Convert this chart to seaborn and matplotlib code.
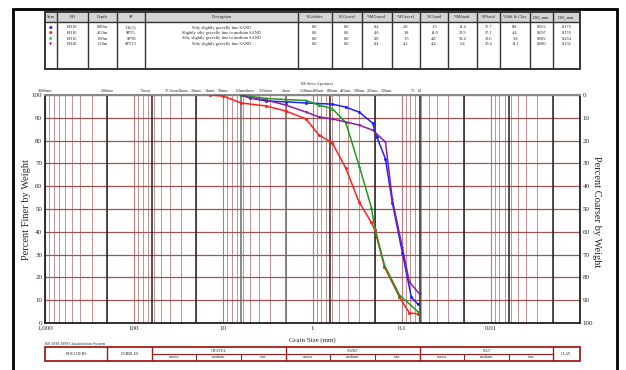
import numpy as np
import pandas as pd
import seaborn as sns
import matplotlib.pyplot as plt
from matplotlib.patches import Rectangle
from matplotlib.ticker import LogLocator, NullFormatter, FixedLocator

# ---- data ----
blue_size = [6.3, 5, 3.35, 2, 1.18, 0.6, 0.425, 0.3, 0.212, 0.19, 0.152, 0.127, 0.098, 0.078, 0.066]
blue_pct = [100, 98.7, 97.4, 97, 96.5, 96, 94.7, 92.5, 87.7, 81.6, 72, 52.6, 30.7, 11.4, 8.3]

red_size = [14, 10, 6.3, 3.35, 2, 1.18, 0.85, 0.6, 0.425, 0.3, 0.22, 0.2, 0.156, 0.106, 0.082, 0.065]
red_pct = [100, 99.5, 96.5, 95.2, 93, 89.5, 82.5, 79, 68, 53, 44.3, 40.8, 24.6, 11.4, 4.4, 4.0]

green_size = [6.3, 3.35, 2, 1.18, 0.85, 0.6, 0.425, 0.3, 0.22, 0.2, 0.156, 0.106, 0.065]
green_pct = [100, 98.5, 98, 97.6, 95.6, 94, 88, 69, 51, 41.7, 25.4, 12.3, 4.8]

purple_size = [6.3, 5, 3.35, 2, 1.18, 0.85, 0.6, 0.3, 0.212, 0.152, 0.127, 0.098, 0.082, 0.063]
purple_pct = [100, 98.7, 97.8, 95.6, 92.5, 90.4, 89.5, 86.8, 84.6, 79.4, 54, 33, 18, 12.7]

samples = ["BH10 0.80m", "BH10 4.00m", "BH16 1.80m", "BH10 1.20m"]
sample_colors = ["#1f1fff", "#ff1f1f", "#1f9a1f", "#8a1fa0"]
sample_markers = ["o", "o", "^", "v"]

x_ticks = [1000, 100, 10, 1, 0.1, 0.01]
x_tick_labels = ["1,000", "100", "10", "1", "0.1", "0.01"]
y_ticks = list(range(0, 101, 10))

sieve_sizes = [1000, 200, 75, 37.5, 28, 20, 14, 10, 6.3, 5, 3.35, 2, 1.18, 0.85, 0.6, 0.425, 0.3, 0.212, 0.15, 0.075, 0.063]
sieve_labels = ["1000mm", "200mm", "75mm", "37.5mm", "28mm", "20mm", "14mm", "10mm", "6.3mm", "5mm", "3.35mm",
                "2mm", "1.18mm", "850um", "600um", "425um", "300um", "212um", "150um", "75", "63"]

class_bounds = [200, 63, 20, 6.3, 2, 0.63, 0.2, 0.063, 0.02, 0.0063, 0.002]

table_headers = ["Sym", "BH", "Depth", "SP", "Description", "%Cobbles", "%CGravel", "%MGravel", "%FGravel",
                 "%CSand", "%MSand", "%FSand", "%Silt & Clay", "D10_mm", "D60_mm"]
col_bh = ["BH10", "BH10", "BH16", "BH10"]
col_depth = ["0.80m", "4.00m", "1.80m", "1.20m"]
col_sp = ["D5(1)", "SPT5", "SPT8", "SPT13"]
col_desc = ["Silty slightly gravelly fine SAND",
            "Slightly silty gravelly fine to medium SAND",
            "Silty slightly gravelly fine to medium SAND",
            "Silty slightly gravelly fine SAND"]
col_cobbles = ["0.0", "0.0", "0.0", "0.0"]
col_cgravel = ["0.0", "0.0", "0.0", "0.0"]
col_mgravel = ["0.4", "4.0", "0.0", "0.4"]
col_fgravel = ["2.8", "3.8", "1.5", "4.2"]
col_csand = ["1.5", "14.0", "4.8", "4.4"]
col_msand = ["11.4", "30.9", "59.4", "5.4"]
col_fsand = ["57.7", "37.1", "30.6", "70.4"]
col_silt = ["8.8", "4.4", "5.8", "11.1"]
col_d10 = ["0.062", "0.097", "0.082", "0.080"]
col_d60 = ["0.175", "0.376", "0.264", "0.136"]

class_names = ["BOULDERS", "COBBLES", "GRAVEL", "SAND", "SILT", "CLAY"]
class_edges = [1000, 200, 63, 2, 0.063, 0.002, 0.001]
sub_names = ["coarse", "medium", "fine"]
sub_edges = [[63, 20, 6.3, 2], [2, 0.63, 0.2, 0.063], [0.063, 0.02, 0.0063, 0.002]]

# ---- layout helpers (pixel -> figure fraction) ----
W, H = 626, 370


def fx(px):
    return px / W


def fy(py):
    return 1 - py / H


sns.set_theme(style="white")
plt.rcParams["font.family"] = ["Liberation Serif", "DejaVu Serif"]

fig = plt.figure(figsize=(6.26, 3.70), dpi=100)

# outer frame (bottom edge runs off the picture)
fig.add_artist(Rectangle((fx(13), fy(380)), fx(617) - fx(13), fy(9) - fy(380),
                         transform=fig.transFigure, fill=False, lw=2, ec="black"))

# ---- main grading chart ----
ax = fig.add_axes([fx(45), fy(323), fx(580) - fx(45), fy(95) - fy(323)])
ax.set_xscale("log")

rows = []
for name, s, p in zip(samples, [blue_size, red_size, green_size, purple_size],
                      [blue_pct, red_pct, green_pct, purple_pct]):
    for a, b in zip(s, p):
        rows.append({"size": a, "pct": b, "sample": name})
df = pd.DataFrame(rows)

sns.lineplot(data=df, x="size", y="pct", hue="sample", style="sample", ax=ax,
             palette=dict(zip(samples, sample_colors)),
             markers=dict(zip(samples, sample_markers)), dashes=False,
             sort=False, estimator=None, lw=1.1, markersize=2.2, markeredgewidth=0,
             legend=False, zorder=5)

ax.set_xlim(1000, 0.001)
ax.set_ylim(0, 100)
ax.xaxis.set_major_locator(FixedLocator(x_ticks))
ax.set_xticklabels(x_tick_labels)
ax.xaxis.set_minor_locator(LogLocator(base=10, subs=np.arange(2, 10)))
ax.xaxis.set_minor_formatter(NullFormatter())
ax.set_yticks(y_ticks)
ax.tick_params(axis="both", which="both", length=0, labelsize=5, pad=2)
ax.grid(True, which="major", axis="x", color="#bb7a7a", lw=0.8)
ax.grid(True, which="minor", axis="x", color="#c89090", lw=0.7)
ax.grid(True, which="major", axis="y", color="#a05555", lw=0.9)
for b in class_bounds:
    ax.axvline(b, color="#222222" if b not in (6.3, 2) else "#6a6a6a", lw=1.1, zorder=2)
for side in ["left", "bottom", "right"]:
    ax.spines[side].set_color("#222222")
    ax.spines[side].set_linewidth(1.3)
ax.spines["top"].set_color("#888888")
ax.spines["top"].set_linewidth(1.5)
ax.set_xlabel("")
ax.set_ylabel("")

ax2 = ax.twinx()
ax2.set_ylim(100, 0)
ax2.set_yticks(y_ticks)
ax2.tick_params(axis="y", length=0, labelsize=5, pad=2)
ax2.grid(False)
for sp in ax2.spines.values():
    sp.set_visible(False)

fig.text(fx(27), fy(209), "Percent Finer by Weight", rotation=90, ha="center", va="center", fontsize=7.5)
fig.text(fx(597), fy(212), "Percent Coarser by Weight", rotation=270, ha="center", va="center", fontsize=7.5)
fig.text(fx(312), fy(340), "Grain Size (mm)", ha="center", va="center", fontsize=5)

# sieve labels above the chart
for s, lab in zip(sieve_sizes, sieve_labels):
    ax.text(s, 101, lab, ha="center", va="bottom", fontsize=3, clip_on=False)
ax.text(0.9, 104, "BS Sieve Apertures", ha="center", va="bottom", fontsize=3, clip_on=False)

# ---- header table ----
col_edges = [45, 57, 88, 117, 145, 298, 332, 362, 392, 420, 448, 477, 500, 530, 553, 580]
tab_top, head_bot, tab_bot = 12, 22, 69
fig.add_artist(Rectangle((fx(45), fy(head_bot)), fx(580) - fx(45), fy(tab_top) - fy(head_bot),
                         transform=fig.transFigure, fc="#d4d4d4", ec="none"))
fig.add_artist(Rectangle((fx(45), fy(tab_bot)), fx(580) - fx(45), fy(tab_top) - fy(tab_bot),
                         transform=fig.transFigure, fill=False, ec="#333333", lw=1.4))
fig.add_artist(plt.Line2D([fx(45), fx(580)], [fy(head_bot), fy(head_bot)],
                          transform=fig.transFigure, color="#333333", lw=1.0))
for e in col_edges[1:-1]:
    fig.add_artist(plt.Line2D([fx(e), fx(e)], [fy(tab_top), fy(tab_bot)],
                              transform=fig.transFigure, color="#333333", lw=1.0))
for i, h in enumerate(table_headers):
    cx = (col_edges[i] + col_edges[i + 1]) / 2
    fig.text(fx(cx), fy(17), h, ha="center", va="center", fontsize=3.2)

row_y = [27.5, 33, 38.5, 44]
columns = [col_bh, col_depth, col_sp, col_desc, col_cobbles, col_cgravel, col_mgravel, col_fgravel,
           col_csand, col_msand, col_fsand, col_silt, col_d10, col_d60]
for r, y in enumerate(row_y):
    fig.text(fx(51), fy(y), "\u25cf" if sample_markers[r] == "o" else
             ("\u25b2" if sample_markers[r] == "^" else "\u25bc"),
             color=sample_colors[r], ha="center", va="center", fontsize=3, family="DejaVu Sans")
    for c, col in enumerate(columns):
        cx = (col_edges[c + 1] + col_edges[c + 2]) / 2
        fig.text(fx(cx), fy(y), col[r], ha="center", va="center", fontsize=3.2)

# ---- classification strip ----
fig.text(fx(45), fy(344), "BS 5930:1999 Classification System", ha="left", va="center", fontsize=3)
axc = fig.add_axes([fx(45), fy(361), fx(580) - fx(45), fy(347) - fy(361)])
axc.set_xscale("log")
axc.set_xlim(1000, 0.001)
axc.set_ylim(0, 2)
axc.axis("off")
red = "#a01c1c"
axc.add_patch(Rectangle((class_edges[0], 0), class_edges[-1] - class_edges[0], 2,
                        fill=False, ec=red, lw=1.3, clip_on=False))
for i, nm in enumerate(class_names):
    a, b = class_edges[i], class_edges[i + 1]
    if i > 0:
        axc.plot([a, a], [0, 2], color=red, lw=1.0, clip_on=False)
    mid = np.sqrt(a * b)
    if nm in ("GRAVEL", "SAND", "SILT"):
        axc.plot([a, b], [1, 1], color=red, lw=0.8)
        axc.text(mid, 1.5, nm, ha="center", va="center", fontsize=3)
        edges = sub_edges[["GRAVEL", "SAND", "SILT"].index(nm)]
        for j, sn in enumerate(sub_names):
            if j > 0:
                axc.plot([edges[j], edges[j]], [0, 1], color=red, lw=0.8)
            axc.text(np.sqrt(edges[j] * edges[j + 1]), 0.5, sn, ha="center", va="center", fontsize=3)
    else:
        axc.text(mid, 1, nm, ha="center", va="center", fontsize=3)

fig.savefig("out.png", dpi=100)
